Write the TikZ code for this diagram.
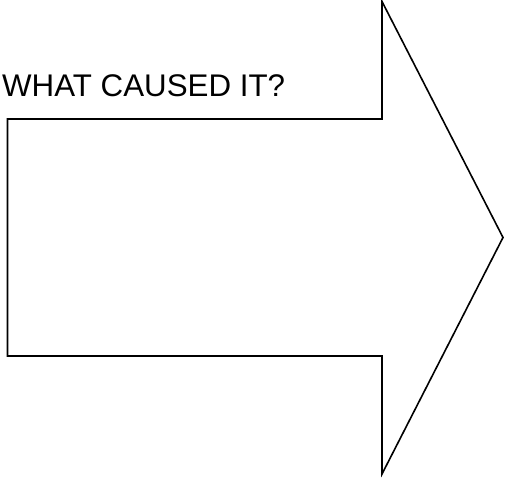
\documentclass[tikz,border=0pt]{standalone}
\usepackage{fontspec}
\setmainfont{Liberation Sans}
\begin{document}
\begin{tikzpicture}[x=1pt,y=-1pt,
  arrowshape/.style={draw=black,line width=1.6pt,line join=miter,fill=white},
  label/.style={inner sep=0pt,anchor=base west,font=\fontsize{31.3}{36}\selectfont}]
\useasboundingbox (0,0) rectangle (505,478);
\draw[arrowshape] (7.5,119) -- (382,119) -- (382,1.5) -- (503,237.5) -- (382,474) -- (382,356) -- (7.5,356) -- cycle;
\node[label] (t) at (2,97) {WHAT CAUSED IT?};
\end{tikzpicture}
\end{document}
